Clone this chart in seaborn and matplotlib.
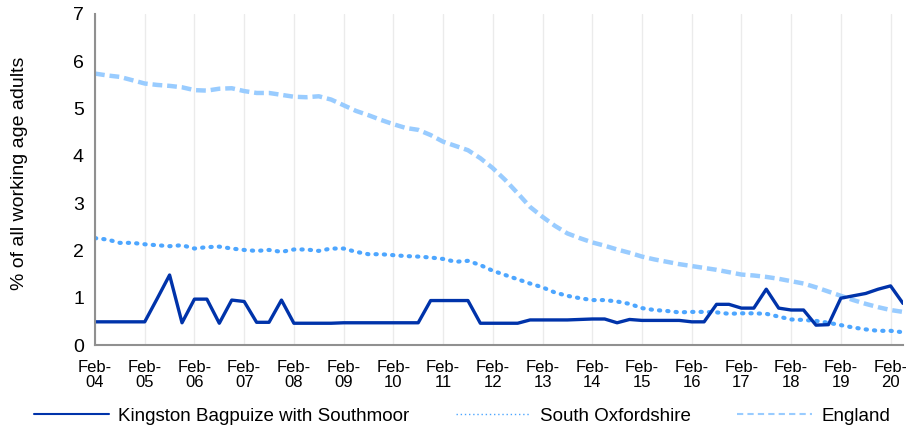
import pandas as pd
import matplotlib.pyplot as plt
from matplotlib.lines import Line2D
import seaborn as sns

# quarterly points, Feb-04 .. May-20
years = [f"{y:02d}" for y in range(4, 21)]

kingston = [0.49, 0.49, 0.49, 0.49, 0.49, 0.98, 1.48, 0.47, 0.97, 0.97,
            0.46, 0.95, 0.92, 0.48, 0.48, 0.95, 0.46, 0.46, 0.46, 0.46,
            0.47, 0.47, 0.47, 0.47, 0.47, 0.47, 0.47, 0.94, 0.94, 0.94,
            0.94, 0.46, 0.46, 0.46, 0.46, 0.53, 0.53, 0.53, 0.53, 0.54,
            0.55, 0.55, 0.47, 0.54, 0.52, 0.52, 0.52, 0.52, 0.49, 0.49,
            0.86, 0.86, 0.78, 0.78, 1.18, 0.78, 0.74, 0.74, 0.42, 0.43,
            0.99, 1.04, 1.09, 1.18, 1.25, 0.88]

south_oxon = [2.26, 2.23, 2.16, 2.16, 2.13, 2.11, 2.09, 2.11, 2.04, 2.07,
              2.08, 2.04, 2.01, 1.99, 2.01, 1.97, 2.02, 2.02, 1.99, 2.04,
              2.04, 1.97, 1.92, 1.92, 1.90, 1.88, 1.87, 1.85, 1.82, 1.76,
              1.78, 1.69, 1.57, 1.48, 1.39, 1.30, 1.22, 1.11, 1.04, 0.99,
              0.95, 0.95, 0.92, 0.87, 0.78, 0.74, 0.72, 0.69, 0.70, 0.70,
              0.69, 0.66, 0.67, 0.67, 0.66, 0.60, 0.54, 0.53, 0.51, 0.47,
              0.42, 0.37, 0.33, 0.30, 0.30, 0.27]

england = [5.74, 5.70, 5.67, 5.60, 5.53, 5.50, 5.48, 5.45, 5.39, 5.38,
           5.42, 5.43, 5.37, 5.33, 5.33, 5.29, 5.25, 5.24, 5.26, 5.19,
           5.07, 4.95, 4.86, 4.76, 4.67, 4.59, 4.55, 4.44, 4.30, 4.21,
           4.12, 3.95, 3.74, 3.49, 3.21, 2.92, 2.71, 2.52, 2.36, 2.26,
           2.17, 2.10, 2.02, 1.95, 1.87, 1.81, 1.76, 1.71, 1.67, 1.63,
           1.59, 1.54, 1.49, 1.47, 1.44, 1.40, 1.35, 1.30, 1.22, 1.13,
           1.04, 0.95, 0.87, 0.80, 0.74, 0.70]

names = ["Kingston Bagpuize with Southmoor", "South Oxfordshire", "England"]
colors = ["#0033aa", "#4da6ff", "#99ccff"]

df = pd.DataFrame({
    "q": list(range(len(kingston))) * 3,
    "value": kingston + south_oxon + england,
    "area": [names[0]] * len(kingston) + [names[1]] * len(south_oxon) + [names[2]] * len(england),
})

sns.set_style("white")
plt.rcParams['font.family'] = ['Liberation Sans', 'DejaVu Sans']
plt.rcParams['text.color'] = 'black'
plt.rcParams['xtick.color'] = 'black'
plt.rcParams['ytick.color'] = 'black'
plt.rcParams['axes.labelcolor'] = 'black'

fig = plt.figure(figsize=(9.06, 4.30), dpi=100)
ax = fig.add_axes([95 / 906, 1 - 345 / 430, 808 / 906, 331 / 430])

# England + South Oxfordshire first so the solid line sits on top
sns.lineplot(data=df[df.area == names[2]], x="q", y="value", ax=ax,
             color=colors[2], lw=3.2, linestyle=(0, (2.2, 1.1)), legend=False)
sns.lineplot(data=df[df.area == names[1]], x="q", y="value", ax=ax,
             color=colors[1], lw=3.0, linestyle=(0, (0.3, 1.7)),
             dash_capstyle="round", legend=False)
sns.lineplot(data=df[df.area == names[0]], x="q", y="value", ax=ax,
             color=colors[0], lw=2.4, legend=False)

ax.set_xlim(0, 65)
ax.set_ylim(0, 7)
ax.set_xticks(range(0, 65, 4))
ax.set_xticklabels([f"Feb-\n{y}" for y in years], fontsize=12, linespacing=0.95)
ax.set_yticks(range(0, 8))
ax.tick_params(axis="y", labelsize=14, length=5, color="#909090", pad=3)
ax.tick_params(axis="x", length=5, color="#909090", pad=6)
ax.grid(axis="x", color="#ebebeb", lw=1)
ax.set_xlabel("")
ax.set_ylabel("% of all working age adults", fontsize=14)
ax.yaxis.set_label_coords(-0.083, 0.52)

for side in ["top", "right"]:
    ax.spines[side].set_visible(False)
for side in ["left", "bottom"]:
    ax.spines[side].set_color("#909090")
    ax.spines[side].set_linewidth(1.5)

handles = [
    Line2D([], [], color=colors[0], lw=1.5),
    Line2D([], [], color=colors[1], lw=1, linestyle=(0, (1, 2))),
    Line2D([], [], color=colors[2], lw=1.5, linestyle=(0, (3, 2))),
]
fig.legend(handles, names, loc="center", bbox_to_anchor=(0.51, 1 - 416 / 430),
           ncol=3, frameon=False, fontsize=13.5, handlelength=4.0,
           columnspacing=2.45, handletextpad=0.5)

plt.savefig("out.png", dpi=100)
